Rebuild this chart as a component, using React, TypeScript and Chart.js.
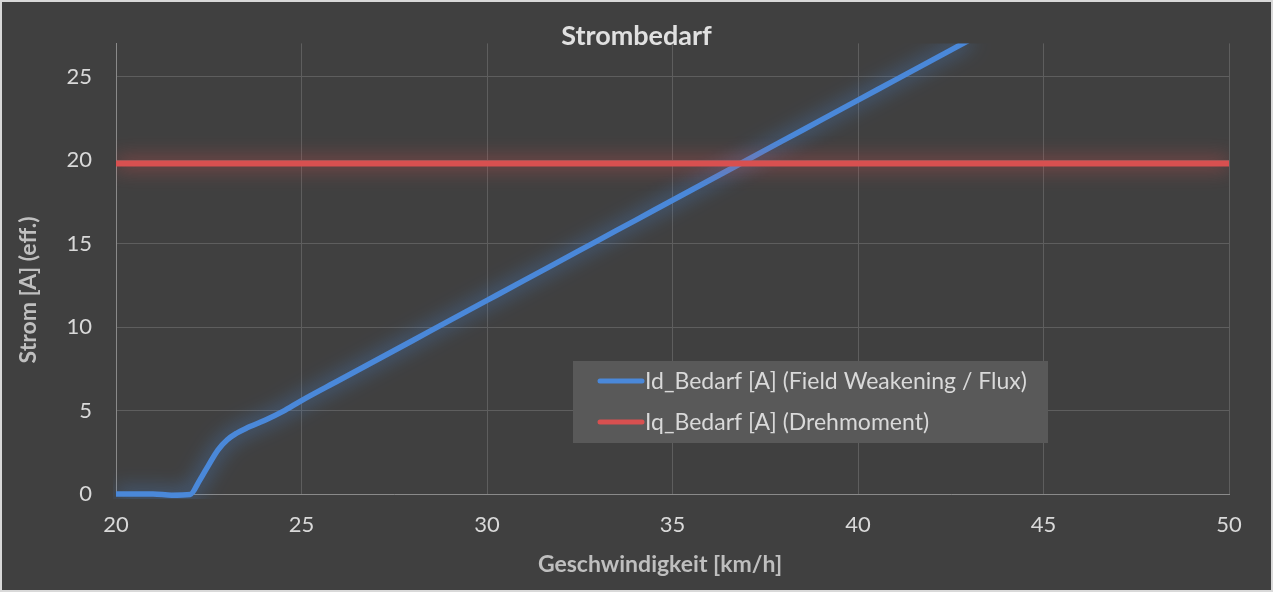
import React, { useEffect, useRef } from "react"
import Chart from "chart.js/auto"

const chartTitle = "Strombedarf"
const xAxisTitle = "Geschwindigkeit [km/h]"
const yAxisTitle = "Strom [A] (eff.)"

const idLabel = "Id_Bedarf [A] (Field Weakening / Flux)"
const idSpeed = [20, 20.5, 21, 21.5, 22, 22.25, 22.5, 22.75, 23, 23.25, 23.5, 24, 24.5, 25, 26, 27, 28, 29, 30, 31, 32, 33, 34, 35, 36, 37, 38, 39, 40, 41, 42, 43]
const idValues = [0, 0, 0, -0.07, -0.03, 0.8, 1.75, 2.65, 3.25, 3.64, 3.93, 4.4, 4.95, 5.6, 6.8, 8.0, 9.2, 10.4, 11.6, 12.8, 14.0, 15.2, 16.4, 17.6, 18.8, 20.0, 21.2, 22.4, 23.6, 24.8, 26.0, 27.2]

const iqLabel = "Iq_Bedarf [A] (Drehmoment)"
const iqSpeed = [20, 50]
const iqValues = [19.8, 19.8]

const xTickValues = [20, 25, 30, 35, 40, 45, 50]
const yTickValues = [0, 5, 10, 15, 20, 25]

const FONT = "Lato"

// soft glow behind each line, like the Excel effect
const glowPlugin = {
    id: "glow",
    beforeDatasetDraw(chart: any, args: any) {
        const ds = chart.data.datasets[args.index]
        chart.ctx.save()
        chart.ctx.shadowColor = ds.glowColor
        chart.ctx.shadowBlur = 20
    },
    afterDatasetDraw(chart: any) {
        chart.ctx.restore()
    },
}

// legend box inside the plot + axis titles
const overlayPlugin = {
    id: "overlay",
    afterDraw(chart: any) {
        const ctx = chart.ctx
        ctx.save()
        ctx.fillStyle = "#595959"
        ctx.fillRect(571, 359, 475, 82)
        chart.data.datasets.forEach((ds: any, i: number) => {
            const y = 379 + i * 41
            ctx.strokeStyle = ds.borderColor
            ctx.lineWidth = 5
            ctx.lineCap = "round"
            ctx.beginPath()
            ctx.moveTo(598, y)
            ctx.lineTo(640, y)
            ctx.stroke()
            ctx.fillStyle = "#d9d9d9"
            ctx.font = `23px ${FONT}`
            ctx.textAlign = "left"
            ctx.textBaseline = "middle"
            ctx.fillText(ds.label, 643, y + 1)
        })

        ctx.fillStyle = "#bfbfbf"
        ctx.font = `bold 23px ${FONT}`
        ctx.textAlign = "center"
        ctx.textBaseline = "middle"
        ctx.fillText(xAxisTitle, 658, 563)

        ctx.translate(27, 288)
        ctx.rotate(-Math.PI / 2)
        ctx.fillText(yAxisTitle, 0, 0)
        ctx.restore()
    },
}

const App = () => {
    const chartRef = useRef<HTMLCanvasElement | null>(null)

    useEffect(() => {
        document.body.style.margin = "0"
        const ctx = chartRef.current?.getContext("2d")
        if (!ctx) return

        const chart = new Chart(ctx, {
            type: "line",
            data: {
                datasets: [
                    {
                        label: idLabel,
                        data: idSpeed.map((x, i) => ({ x, y: idValues[i] })),
                        borderColor: "#4a88d9",
                        glowColor: "rgba(74,136,217,0.9)",
                        borderWidth: 5.5,
                        pointRadius: 0,
                        cubicInterpolationMode: "monotone",
                        clip: { left: 3, top: 0, right: 0, bottom: 5 },
                        order: 1,
                    } as any,
                    {
                        label: iqLabel,
                        data: iqSpeed.map((x, i) => ({ x, y: iqValues[i] })),
                        borderColor: "#d85050",
                        glowColor: "rgba(216,80,80,0.9)",
                        borderWidth: 6,
                        pointRadius: 0,
                        order: 0,
                    } as any,
                ],
            },
            options: {
                responsive: false,
                animation: false,
                layout: { padding: 0 },
                plugins: {
                    legend: { display: false },
                    tooltip: { enabled: false },
                    title: {
                        display: true,
                        text: chartTitle,
                        color: "#e0e0e0",
                        font: { family: FONT, size: 27, weight: "bold" },
                        padding: { top: 18, bottom: -9 },
                    },
                },
                scales: {
                    x: {
                        type: "linear",
                        min: 20,
                        max: 50,
                        afterBuildTicks: (axis: any) => {
                            axis.ticks = xTickValues.map((v) => ({ value: v }))
                        },
                        afterFit: (axis: any) => {
                            axis.height = 96
                        },
                        ticks: {
                            color: "#d9d9d9",
                            font: { family: FONT, size: 22 },
                            padding: 18,
                            maxRotation: 0,
                        },
                        grid: { color: "#5e5e5e", drawTicks: false },
                        border: { color: "#8a8a8a" },
                    },
                    y: {
                        min: 0,
                        max: 27,
                        afterBuildTicks: (axis: any) => {
                            axis.ticks = yTickValues.map((v) => ({ value: v }))
                        },
                        afterFit: (axis: any) => {
                            axis.width = 114
                        },
                        ticks: {
                            color: "#d9d9d9",
                            font: { family: FONT, size: 22 },
                            padding: 24,
                        },
                        grid: { color: "#5e5e5e", drawTicks: false },
                        border: { color: "#8a8a8a" },
                    },
                    // empty spacer on the right so the title stays centred on the canvas
                    spacer: {
                        position: "right",
                        min: 0,
                        max: 27,
                        afterFit: (axis: any) => {
                            axis.width = 42
                        },
                        ticks: { display: false },
                        grid: { display: false },
                        border: { display: false },
                    },
                },
            },
            plugins: [glowPlugin, overlayPlugin],
        } as any)

        return () => {
            chart.destroy()
        }
    }, [])

    return (
        <div style={{ position: "relative", width: 1273, height: 592, background: "#d9d9d9" }}>
            <canvas
                ref={chartRef}
                width={1269}
                height={588}
                style={{ position: "absolute", left: 2, top: 2, background: "#404040" }}
            />
        </div>
    )
}

export default App
